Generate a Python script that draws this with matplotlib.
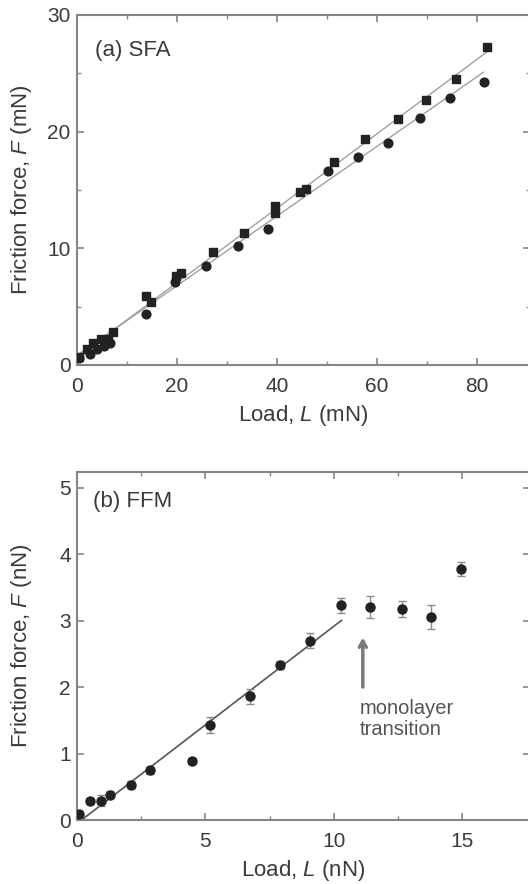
import matplotlib
matplotlib.use("Agg")
import matplotlib.pyplot as plt
import numpy as np

plt.rcParams['font.family'] = ['Liberation Sans', 'DejaVu Sans']
plt.rcParams['mathtext.fontset'] = 'custom'
plt.rcParams['mathtext.rm'] = 'Liberation Sans'
plt.rcParams['mathtext.it'] = 'Liberation Sans:italic'

# ---------------- data: panel (a) SFA ----------------
sfa_sq_load = [0.3, 1.9, 3.1, 4.7, 6.1, 7.1, 13.8, 14.7, 19.9, 20.9, 27.3, 33.4,
               39.6, 39.6, 44.6, 45.8, 51.5, 57.6, 64.3, 69.8, 75.9, 82.1]
sfa_sq_force = [0.7, 1.4, 1.9, 2.2, 2.2, 2.8, 5.9, 5.4, 7.6, 7.9, 9.7, 11.3,
                13.6, 13.0, 14.8, 15.1, 17.4, 19.4, 21.1, 22.7, 24.5, 27.3]
sfa_ci_load = [0.3, 2.6, 3.9, 5.3, 6.6, 13.8, 19.6, 25.9, 32.3, 38.3, 50.1,
               56.3, 62.3, 68.6, 74.6, 81.5]
sfa_ci_force = [0.6, 0.95, 1.4, 1.6, 1.9, 4.4, 7.1, 8.5, 10.2, 11.7, 16.6,
                17.8, 19.0, 21.2, 22.9, 24.3]
# linear fits (intercept, slope, end of fitted range)
sfa_fit_upper = (0.68, 0.319, 82.0)
sfa_fit_lower = (0.83, 0.2985, 81.3)

# ---------------- data: panel (b) FFM ----------------
ffm_load = [0.09, 0.51, 0.92, 1.29, 2.09, 2.84, 4.47, 5.16, 6.74, 7.91, 9.08,
            10.27, 11.41, 12.65, 13.79, 14.96]
ffm_force = [0.09, 0.29, 0.29, 0.38, 0.53, 0.75, 0.89, 1.43, 1.86, 2.33, 2.70,
             3.23, 3.21, 3.18, 3.06, 3.78]
ffm_err = [0.04, 0.04, 0.08, 0.05, 0.05, 0.05, 0.04, 0.12, 0.12, 0.06, 0.11,
           0.12, 0.17, 0.12, 0.18, 0.10]
ffm_fit = (-0.053, 0.297, 0.18, 10.3)  # intercept, slope, start, end

text_c = '#3a3a3a'
spine_c = '#858585'
mark_c = '#222222'

fig = plt.figure(figsize=(5.28, 8.84), dpi=100)
W, H = 528, 884
ax1 = fig.add_axes([77 / W, 1 - 365 / H, 453 / W, 350 / H])
ax2 = fig.add_axes([77 / W, 1 - 820 / H, 453 / W, 348 / H])


def style(ax):
    for s in ax.spines.values():
        s.set_color(spine_c)
        s.set_linewidth(1.5)
    ax.tick_params(which='both', direction='in', top=True, right=True,
                   colors=spine_c, labelcolor=text_c, labelsize=15)
    ax.tick_params(which='major', length=5, width=1.2)
    ax.tick_params(which='minor', length=3, width=1.0)
    ax.tick_params(axis='x', pad=8.5)
    ax.tick_params(axis='y', pad=4.5)


# panel (a)
style(ax1)
for (b0, b1, xe) in [sfa_fit_upper, sfa_fit_lower]:
    xx = np.array([0.0, xe])
    ax1.plot(xx, b0 + b1 * xx, color='#a0a0a0', lw=1.0, zorder=2)
ax1.plot(sfa_sq_load, sfa_sq_force, 's', ms=5.8, color=mark_c, mec=mark_c, zorder=3)
ax1.plot(sfa_ci_load, sfa_ci_force, 'o', ms=6.3, color=mark_c, mec=mark_c, zorder=3)
ax1.set_xlim(0, 90.6)
ax1.set_ylim(0, 30)
ax1.set_xticks([0, 20, 40, 60, 80])
ax1.set_xticks([10, 30, 50, 70], minor=True)
ax1.set_yticks([0, 10, 20, 30])
ax1.set_yticks([5, 15, 25], minor=True)
ax1.set_xlabel('Load, $L$ (mN)', fontsize=16, color=text_c, labelpad=5.5)
ax1.set_ylabel('Friction force, $F$ (mN)', fontsize=16, color=text_c)
ax1.yaxis.set_label_coords(-0.095, 0.5)
ax1.text(0.04, 0.899, '(a) SFA', transform=ax1.transAxes, fontsize=16,
         color=text_c, ha='left', va='center')

# panel (b)
style(ax2)
b0, b1, xs, xe = ffm_fit
xx = np.array([xs, xe])
ax2.plot(xx, b0 + b1 * xx, color='#555555', lw=1.2, zorder=2)
ax2.errorbar(ffm_load, ffm_force, yerr=ffm_err, fmt='o', ms=6.5, color=mark_c,
             mec=mark_c, ecolor='#8a8a8a', elinewidth=1.0, capsize=3,
             capthick=1.0, zorder=3)
ax2.set_xlim(0, 17.64)
ax2.set_ylim(0, 5.24)
ax2.set_xticks([0, 5, 10, 15])
ax2.set_xticks([2.5, 7.5, 12.5], minor=True)
ax2.set_yticks([0, 1, 2, 3, 4, 5])
ax2.set_xlabel('Load, $L$ (nN)', fontsize=16, color=text_c, labelpad=5.5)
ax2.set_ylabel('Friction force, $F$ (nN)', fontsize=16, color=text_c)
ax2.yaxis.set_label_coords(-0.095, 0.5)
ax2.text(0.035, 0.915, '(b) FFM', transform=ax2.transAxes, fontsize=16,
         color=text_c, ha='left', va='center')
ax2.annotate('', xy=(11.13, 2.79), xytext=(11.13, 1.96),
             arrowprops=dict(arrowstyle='->,head_length=0.45,head_width=0.25',
                             color='#7a7a7a', lw=2.5))
ax2.text(11.0, 1.82, 'monolayer\ntransition', fontsize=14.5, color='#555555',
         ha='left', va='top', linespacing=1.1)

fig.savefig('out.png', dpi=100, facecolor='white')
